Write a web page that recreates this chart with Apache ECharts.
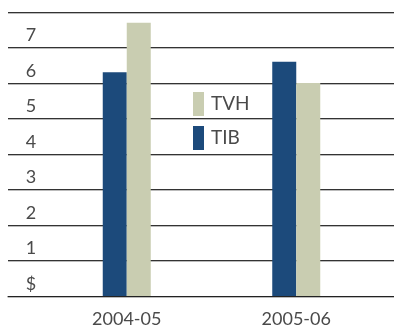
<!DOCTYPE html>
<html>
<head>
<meta charset="utf-8">
<script src="https://cdn.jsdelivr.net/npm/echarts@6/dist/echarts.min.js"></script>
<style>
  html, body { margin: 0; padding: 0; background: #fff; }
  #chart { width: 394px; height: 330px; }
</style>
</head>
<body>
<div id="chart"></div>
<script>
// Fiscal years on the category axis
const years = ['2004-05', '2005-06'];
// Series values ($)
const tibValues = [6.3, 6.6];
const tvhValues = [7.7, 6.0];
// Value-axis tick labels, from 0 up to 8
const tickLabels = ['$', '1', '2', '3', '4', '5', '6', '7', ''];

const FONT = 'Lato, "DejaVu Sans", sans-serif';
const TEXT = '#4a4a4a';

const chart = echarts.init(document.getElementById('chart'), null, { renderer: 'canvas' });

chart.setOption({
  animation: false,
  backgroundColor: '#fff',
  grid: [
    // full-width grid carrying the horizontal rules and the value labels
    { left: 8, right: 0, top: 12, height: 284 },
    // inner grid carrying the bars and the year labels
    { left: 42, width: 339, top: 12, height: 284 }
  ],
  legend: {
    orient: 'vertical',
    left: 188,
    top: 87,
    icon: 'rect',
    itemWidth: 11,
    itemHeight: 24,
    itemGap: 10,
    data: ['TVH', 'TIB'],
    textStyle: { fontFamily: FONT, fontSize: 19, color: TEXT, padding: [0, 0, 2, 2] }
  },
  xAxis: [
    {
      gridIndex: 0, type: 'value', min: 0, max: 1,
      axisLine: { show: true, lineStyle: { color: '#222', width: 1, shadowColor: '#bbb', shadowOffsetY: 1 } },
      axisTick: { show: false }, axisLabel: { show: false }, splitLine: { show: false }
    },
    {
      gridIndex: 1, type: 'category', data: years,
      axisLine: { show: false }, axisTick: { show: false },
      axisLabel: { fontFamily: FONT, fontSize: 18, color: TEXT, margin: 14 }
    }
  ],
  yAxis: [
    {
      gridIndex: 0, type: 'value', min: 0, max: 8, interval: 1,
      axisLine: { show: false }, axisTick: { show: false },
      splitLine: { show: true, lineStyle: { color: '#333', width: 1, shadowColor: '#bbb', shadowOffsetY: 1 } },
      axisLabel: {
        inside: true, margin: 23, align: 'center', verticalAlign: 'bottom',
        padding: [0, 0, 3, 0],
        fontFamily: FONT, fontSize: 18, color: TEXT,
        formatter: (v) => tickLabels[Math.round(v)]
      }
    },
    { gridIndex: 1, type: 'value', min: 0, max: 8, show: false }
  ],
  series: [
    {
      name: 'TIB', type: 'bar', xAxisIndex: 1, yAxisIndex: 1,
      data: tibValues, barWidth: 24, barGap: '0%',
      itemStyle: { color: '#1c4a7b' }, z: 3
    },
    {
      name: 'TVH', type: 'bar', xAxisIndex: 1, yAxisIndex: 1,
      data: tvhValues, barWidth: 24, barGap: '0%',
      itemStyle: { color: '#c9cdb1' }, z: 3
    }
  ]
});
</script>
</body>
</html>
